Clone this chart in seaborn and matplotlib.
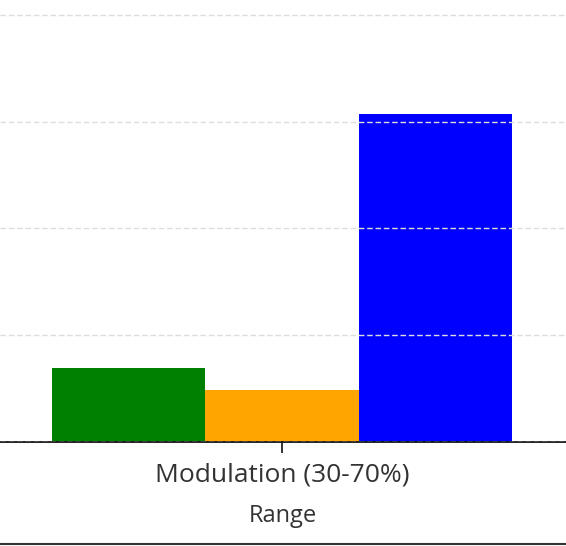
import seaborn as sns
import matplotlib.pyplot as plt
from matplotlib.lines import Line2D
import pandas as pd

ranges = ["Modulation (30-70%)"]
series = ["Series A", "Series B", "Series C"]
values = [6.94, 4.86, 30.7]
colores = ["green", "orange", "blue"]
yticks = [0, 10, 20, 30, 40]

df = pd.DataFrame({"Range": ranges * len(series), "serie": series, "valor": values})

sns.set_style("white")
plt.rcParams['font.family'] = ['Open Sans', 'DejaVu Sans']

fig = plt.figure(figsize=(5.66, 5.46), dpi=100)
ax = fig.add_axes([0, 0.1905, 1, 0.8095])
sns.barplot(data=df, x="Range", y="valor", hue="serie", palette=colores,
            saturation=1, width=0.8, linewidth=0, ax=ax, legend=False)

ax.set_xlim(-0.49, 0.494)
ax.set_ylim(0, 41.4)
ax.set_yticks(yticks)
ax.tick_params(axis="y", left=False, labelleft=False)
ax.tick_params(axis="x", bottom=True, length=8, width=1.2, color="#111111",
               labelsize=19, labelcolor="#333333", pad=7)
ax.set_axisbelow(False)
ax.yaxis.grid(True, linestyle=(0, (4, 2)), color="#dddddd", linewidth=1)
ax.set_xlabel("Range", fontsize=17, color="#333333", labelpad=12)
ax.set_ylabel("")
for s in ["top", "left", "right"]:
    ax.spines[s].set_visible(False)
ax.spines["bottom"].set_color("#111111")
ax.spines["bottom"].set_linewidth(1.3)

# linea inferior del marco
fig.add_artist(Line2D([0, 1], [0.003, 0.003], color="#333333", linewidth=1.5))

fig.savefig("out.png", dpi=100)
